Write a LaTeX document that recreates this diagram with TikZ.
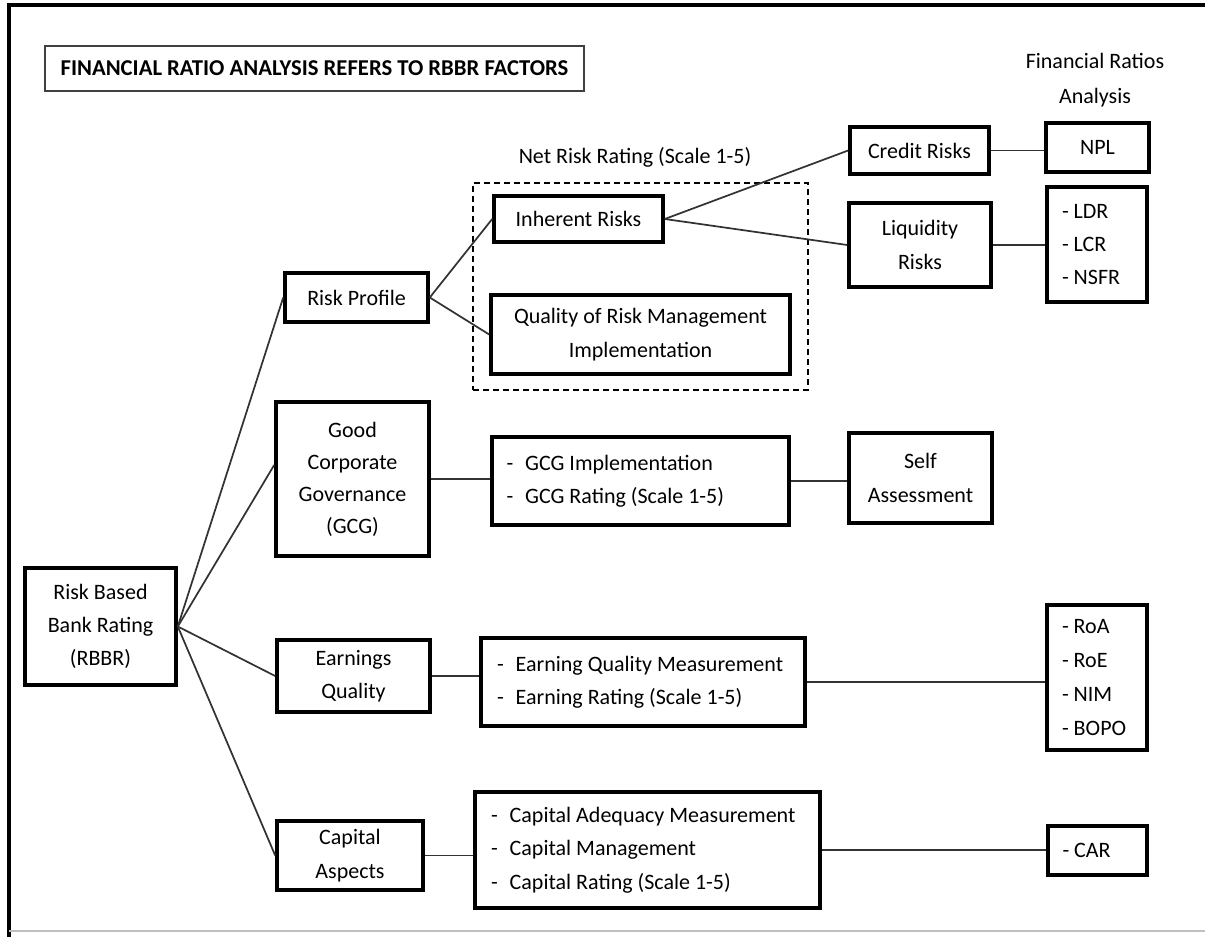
\documentclass[tikz,border=0pt]{standalone}
\usepackage{fontspec}
\setmainfont{Carlito}
\newcommand{\fz}{\fontsize{16.5}{25}\selectfont}
\newcommand{\dsh}{-\hspace{9pt}}
\tikzset{
  box/.style={draw, line width=2.7pt, inner sep=0pt, align=center, font=\fz},
  listbox/.style={box, align=flush left},
  conn/.style={line width=1.3pt, draw=black!80}}
\begin{document}
\begin{tikzpicture}[x=0.75pt,y=-0.75pt]
\useasboundingbox (0,0) rectangle (1205,937);
% frame
\draw[line width=3pt] (9,937) -- (9,5) -- (1205,5);
\draw[line width=0.8pt, draw=black!25] (9,931) -- (1205,931);
% title
\node[draw=black!75, line width=1.3pt, minimum width=404.25pt, minimum height=33.75pt, inner sep=0pt, font=\fontsize{17}{25}\selectfont\bfseries] (title) at (314.5,68.5) {FINANCIAL RATIO ANALYSIS REFERS TO RBBR FACTORS};
\node[align=center, font=\fontsize{16.5}{26}\selectfont, inner sep=0pt] (frhead) at (1095,80) {Financial Ratios\\Analysis};
\node[font=\fz, inner sep=0pt] (nrr) at (635,157) {Net Risk Rating (Scale 1-5)};
% dashed group
\node[draw, dash pattern=on 4.5pt off 3pt, line width=1.3pt, minimum width=251.25pt, minimum height=155.25pt, inner sep=0pt] (grp) at (640.5,286.5) {};
% nodes
\node[box, minimum width=113.25pt, minimum height=87.75pt] (rbbr) at (100.5,626.5) {Risk Based\\Bank Rating\\(RBBR)};
\node[box, minimum width=107.25pt, minimum height=36.75pt] (rp) at (356.5,297.5) {Risk Profile};
\node[box, minimum width=114.75pt, minimum height=115.5pt, font=\fontsize{16.5}{24}\selectfont] (gcg) at (352.5,479) {Good\\Corporate\\Governance\\(GCG)};
\node[box, minimum width=114.75pt, minimum height=54pt] (eq) at (353.5,676) {Earnings\\Quality};
\node[box, minimum width=109.5pt, minimum height=51.75pt] (cap) at (350,855.5) {Capital\\Aspects};
\node[box, minimum width=126.75pt, minimum height=34.5pt] (inh) at (578.5,219) {Inherent Risks};
\node[box, minimum width=224.25pt, minimum height=59.25pt] (qrm) at (640.5,334.5) {Quality of Risk Management\\Implementation};
\node[box, minimum width=104.25pt, minimum height=35.25pt] (cr) at (919.5,150.5) {Credit Risks};
\node[box, minimum width=106.5pt, minimum height=63pt] (liq) at (920,245) {Liquidity\\Risks};
\node[box, minimum width=77.25pt, minimum height=36.75pt] (npl) at (1097.5,147.5) {NPL};
\node[listbox, minimum width=75pt, minimum height=86.25pt, text width=52.5pt] (ldr) at (1097,244.5) {\mbox{- LDR}\\\mbox{- LCR}\\\mbox{- NSFR}};
\node[listbox, minimum width=222.75pt, minimum height=66pt, text width=201pt] (gcgb) at (640.5,481) {\mbox{\dsh GCG Implementation}\\\mbox{\dsh GCG Rating (Scale 1-5)}};
\node[box, minimum width=107.25pt, minimum height=67.5pt] (self) at (920.5,478) {Self\\Assessment};
\node[listbox, minimum width=243pt, minimum height=66pt, text width=219pt] (eqb) at (643,682) {\mbox{\dsh Earning Quality Measurement}\\\mbox{\dsh Earning Rating (Scale 1-5)}};
\node[listbox, minimum width=75pt, minimum height=108.75pt, text width=52.5pt, font=\fontsize{16.5}{25.5}\selectfont] (roa) at (1097,677.5) {\mbox{- RoA}\\\mbox{- RoE}\\\mbox{- NIM}\\\mbox{- BOPO}};
\node[listbox, minimum width=258.75pt, minimum height=87pt, text width=234.75pt, font=\fontsize{16.5}{25}\selectfont] (capb) at (647.5,850) {\mbox{\dsh Capital Adequacy Measurement}\\\mbox{\dsh Capital Management}\\\mbox{\dsh Capital Rating (Scale 1-5)}};
\node[listbox, minimum width=74.25pt, minimum height=36.75pt, text width=52.5pt] (car) at (1097.5,850.5) {\mbox{- CAR}};
% connectors
\draw[conn] (rbbr.east) -- (gcg.west |- 0,465);
\draw[conn] (rbbr.east) -- (rp.west);
\draw[conn] (rbbr.east) -- (eq.west);
\draw[conn] (rbbr.east) -- (cap.west);
\draw[conn] (rp.east) -- (inh.west);
\draw[conn] (rp.east) -- (qrm.west);
\draw[conn] (inh.east) -- (cr.west);
\draw[conn] (inh.east) -- (liq.west);
\draw[conn] (cr.east) -- (npl.west |- cr.east);
\draw[conn] (liq.east) -- (ldr.west |- liq.east);
\draw[conn] (gcg.east) -- (gcgb.west |- gcg.east);
\draw[conn] (gcgb.east) -- (self.west |- gcgb.east);
\draw[conn] (eq.east) -- (eqb.west |- eq.east);
\draw[conn] (eqb.east) -- (roa.west |- eqb.east);
\draw[conn] (cap.east) -- (capb.west |- cap.east);
\draw[conn] (capb.east) -- (car.west |- capb.east);
\end{tikzpicture}
\end{document}
